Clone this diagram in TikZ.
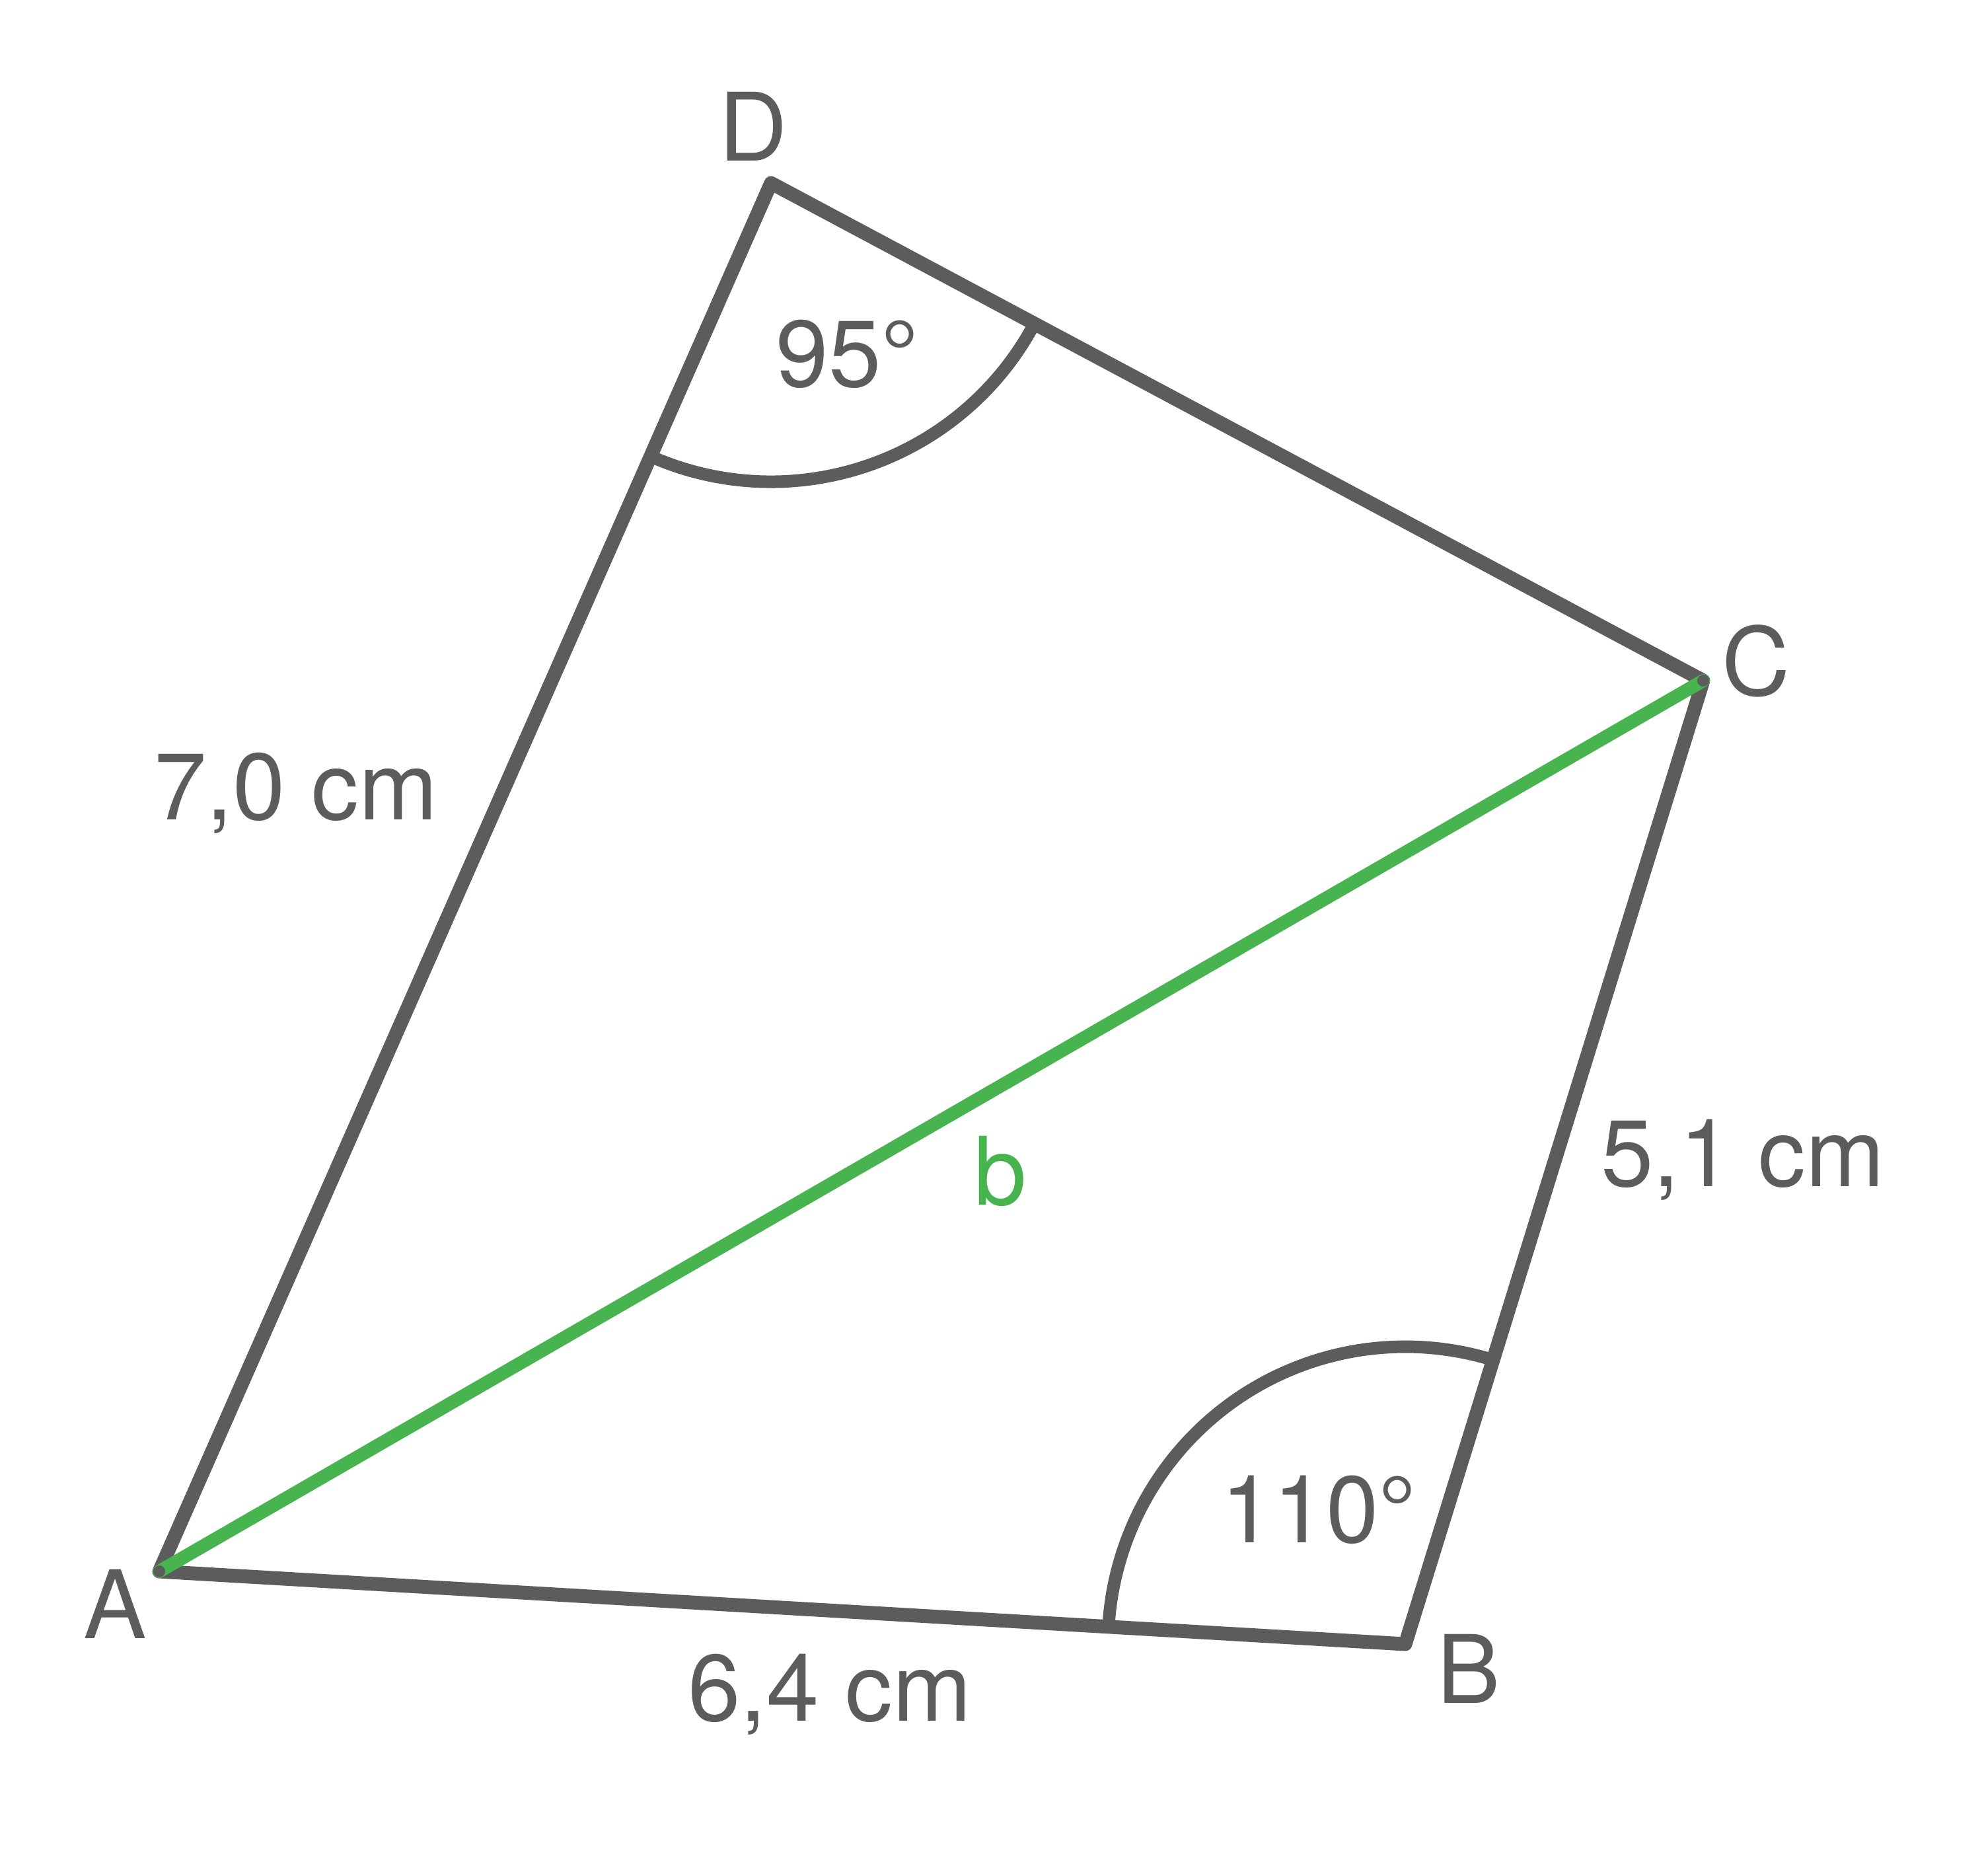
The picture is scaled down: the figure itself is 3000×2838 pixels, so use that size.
\documentclass[tikz,border=0pt]{standalone}
\usepackage{fontspec}
\setmainfont{TeX Gyre Heros}
\usetikzlibrary{calc}
\definecolor{gry}{HTML}{5C5C5C}
\definecolor{grn}{HTML}{47B450}
\begin{document}
\begin{tikzpicture}[x=1pt,y=-1pt,
  side/.style={draw=gry,line width=21pt,line join=round,line cap=round},
  diag/.style={draw=grn,line width=20pt,line cap=round},
  anglearc/.style={draw=gry,line width=19pt},
  lbl/.style={text=gry,inner sep=0pt,anchor=base,font=\fontsize{143}{172}\selectfont},
  dot/.style={fill=gry,draw=none}]
\useasboundingbox (0,0) rectangle (3000,2838);
\coordinate (A) at (241,2378);
\coordinate (B) at (2127,2488);
\coordinate (C) at (2578,1030);
\coordinate (D) at (1167,277);
% sides
\draw[side] (A) -- (B) -- (C) -- (D) -- cycle;
% angle arcs
\path let \p1=($(A)-(D)$), \p2=($(C)-(D)$),
  \n1={atan2(\y1,\x1)}, \n2={atan2(\y2,\x2)} in
  [anglearc] ([shift={(\n1:452pt)}]D) arc[start angle=\n1, end angle=\n2, radius=452pt];
\path let \p1=($(C)-(B)$), \p2=($(A)-(B)$),
  \n1={atan2(\y1,\x1)}, \n2={atan2(\y2,\x2)} in
  [anglearc] ([shift={(\n1:450pt)}]B) arc[start angle=\n1, end angle=\n2, radius=450pt];
% diagonal
\draw[diag] (A) -- (C);
\fill[dot] (A) circle[radius=9pt];
\fill[dot] (C) circle[radius=9pt];
% labels
\node[lbl] (lD) at (1140,243) {D};
\node[lbl] (lC) at (2658,1052) {C};
\node[lbl] (lA) at (174,2479) {A};
\node[lbl] (lB) at (2223,2577) {B};
\node[lbl] (lAD) at (448,1240) {7,0 cm};
\node[lbl] (lBC) at (2638,1795) {5,1 cm};
\node[lbl] (lAB) at (1256,2604) {6,4 cm};
\node[lbl,text=grn] (lb) at (1514,1823) {b};
\node[lbl] (aD) at (1283,585) {95°};
\node[lbl] (aB) at (1996,2334) {110°};
\end{tikzpicture}
\end{document}
